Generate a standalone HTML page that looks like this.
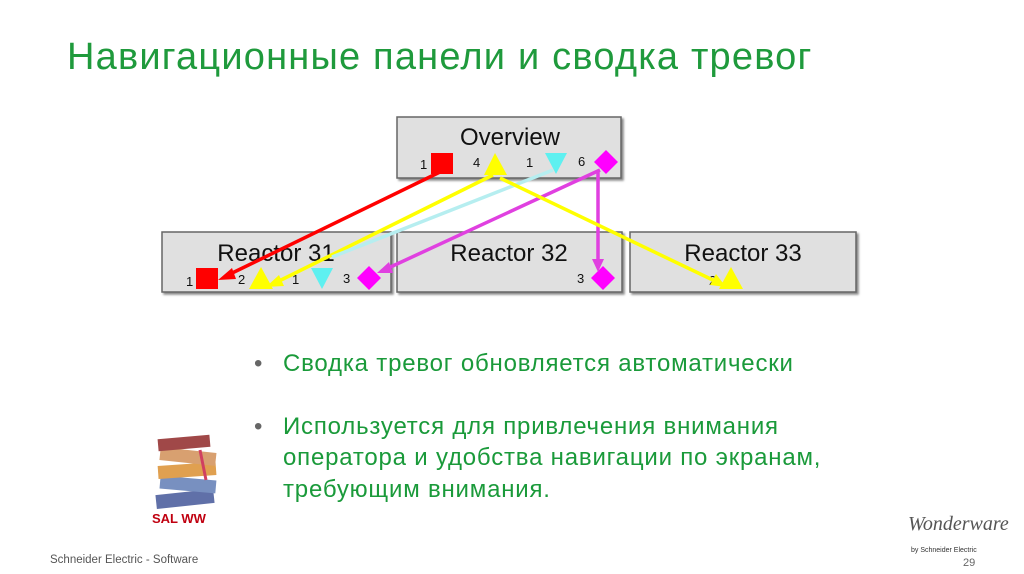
<!DOCTYPE html>
<html><head><meta charset="utf-8"><style>
body{margin:0;width:1024px;height:574px;background:#fff;overflow:hidden;position:relative;font-family:"Liberation Sans","Noto Sans CJK SC",sans-serif}
.t{position:absolute;color:#1a9a3a}
</style></head><body>
<div class="t" style="left:67px;top:36px;font-size:38px;letter-spacing:1.2px;color:#1f9a3c;white-space:nowrap">Навигационные панели и сводка тревог</div>
<svg width="1024" height="574" style="position:absolute;left:0;top:0" font-family="Liberation Sans, sans-serif">
<defs>
<filter id="sh"><feDropShadow dx="2" dy="2" stdDeviation="1" flood-color="#888"/></filter>
</defs>
<g fill="#e0e0e0" stroke="#666" stroke-width="1.5" filter="url(#sh)">
<rect x="397" y="117" width="224" height="61"/>
<rect x="162" y="232" width="229" height="60"/>
<rect x="397" y="232" width="225" height="60"/>
<rect x="630" y="232" width="226" height="60"/>
</g>
<g font-size="24" fill="#111" text-anchor="middle">
<text x="510" y="145">Overview</text>
<text x="276" y="261">Reactor 31</text>
<text x="509" y="261">Reactor 32</text>
<text x="743" y="261">Reactor 33</text>
</g>
<g font-size="13" fill="#111">
<text x="420" y="169">1</text><text x="473" y="167">4</text><text x="526" y="167">1</text><text x="578" y="166">6</text>
<text x="186" y="286">1</text><text x="238" y="284">2</text><text x="292" y="284">1</text><text x="343" y="283">3</text>
<text x="577" y="283">3</text><text x="709" y="285">2</text>
</g>
<g fill="#f00"><rect x="431" y="153" width="22" height="21"/><rect x="196" y="268" width="22" height="21"/></g>
<g fill="#ff0"><polygon points="495,153 484,175 507,175"/><polygon points="261,267 249,289 273,289"/><polygon points="731,267 719,289 743,289"/></g>
<g fill="#5ef0f0"><polygon points="545,153 567,153 556,174"/><polygon points="311,268 333,268 322,289"/></g>
<g fill="#f0f"><polygon points="606,150 618,162 606,174 594,162"/><polygon points="369,266 381,278 369,290 357,278"/><polygon points="603,266 615,278 603,290 591,278"/></g>
<g stroke-width="3.5" fill="none">
<line x1="440" y1="172" x2="226" y2="276" stroke="#f00"/>
<line x1="493" y1="175" x2="275" y2="283" stroke="#ff0"/>
<line x1="553" y1="170" x2="332" y2="257" stroke="#b6eef0"/>
<line x1="600" y1="170" x2="384" y2="270" stroke="#e040e0"/>
<line x1="598" y1="170" x2="598" y2="262" stroke="#e040e0"/>
<line x1="500" y1="178" x2="717" y2="282" stroke="#ff0"/>
</g>
<g>
<polygon points="218,280 232,268 236,279" fill="#f00"/>
<polygon points="266,287 279,275 284,286" fill="#ff0"/>
<polygon points="377,273 389,262 393,273" fill="#e040e0"/>
<polygon points="598,272 592,259 604,259" fill="#e040e0"/>
<polygon points="726,287 710,285 716,274" fill="#ff0"/>
</g>
<g>
<rect x="156" y="492" width="58" height="14" fill="#6070a8" transform="rotate(-6 185 499)"/>
<rect x="160" y="478" width="56" height="13" fill="#7890c0" transform="rotate(5 188 484)"/>
<rect x="158" y="464" width="58" height="13" fill="#e0a050" transform="rotate(-4 187 470)"/>
<rect x="160" y="450" width="56" height="13" fill="#d8a070" transform="rotate(6 188 456)"/>
<rect x="158" y="437" width="52" height="12" fill="#a04848" transform="rotate(-5 184 443)"/>
<line x1="200" y1="450" x2="206" y2="480" stroke="#d04060" stroke-width="3"/>
</g>
<text x="152" y="523" font-size="13" font-weight="bold" fill="#c00010">SAL  WW</text>
<text x="50" y="563" font-size="11.5" fill="#555">Schneider Electric - Software</text>
<text x="908" y="530" font-size="20" font-style="italic" font-family="Liberation Serif, serif" fill="#555">Wonderware</text>
<text x="911" y="552" font-size="7" fill="#333">by Schneider Electric</text>
<text x="963" y="566" font-size="11" fill="#666">29</text>
</svg>
<div class="t" style="left:254px;top:348px;font-size:24px;letter-spacing:0.8px;line-height:31.5px;width:700px;white-space:nowrap">
<div style="position:relative;padding-left:29px"><span style="position:absolute;left:0;color:#666">•</span>Сводка тревог обновляется автоматически</div>
<div style="position:relative;padding-left:29px;margin-top:31px"><span style="position:absolute;left:0;color:#666">•</span>Используется для привлечения внимания<br>оператора и удобства навигации по экранам,<br>требующим внимания.</div>
</div>
</body></html>
